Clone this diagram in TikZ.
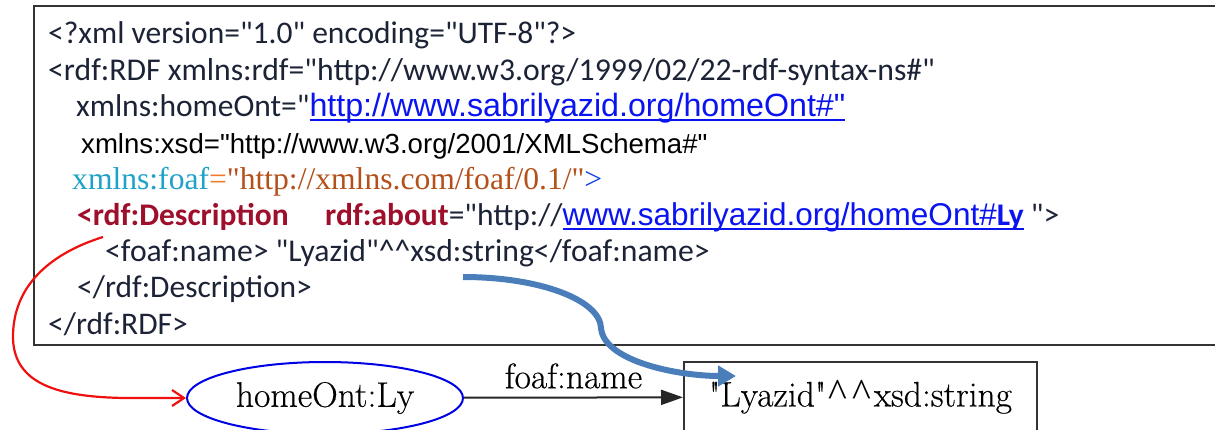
\documentclass[tikz,border=0pt]{standalone}
\usepackage{fontspec}
\newfontfamily\codefont{Carlito}
\newfontfamily\arialfont{Liberation Sans}
\newfontfamily\timesfont{Liberation Serif}
\newfontfamily\graphfont[FakeBold=0.4]{Latin Modern Roman}
\usetikzlibrary{arrows.meta,shapes.geometric}

\definecolor{codeink}{HTML}{1C2336}
\definecolor{tagred}{HTML}{9E0F2C}
\definecolor{nscyan}{HTML}{1FA2C8}
\definecolor{eqorange}{HTML}{F07A28}
\definecolor{valbrown}{HTML}{B4501A}
\definecolor{linkblue}{HTML}{0A14F0}
\definecolor{framegray}{HTML}{333333}
\definecolor{pointblue}{HTML}{4A7EBB}
\definecolor{pointred}{HTML}{F01010}

\tikzset{
  codeline/.style={anchor=base west, inner sep=0pt, text=codeink,
    font=\codefont\fontsize{31.5}{36}\selectfont},
  frame/.style={draw=framegray, line width=2.6},
  graphtext/.style={font=\graphfont\fontsize{35.5}{40}\selectfont, text=black},
  resource/.style={ellipse, draw=blue!90!black, line width=2,
    minimum width=276, minimum height=72, inner sep=0pt, graphtext},
  literal/.style={rectangle, draw=framegray, line width=2,
    minimum width=353, minimum height=70, inner sep=0pt, graphtext},
  property/.style={draw=black!85, line width=2,
    -{Triangle[length=22,width=15]}},
  redpointer/.style={draw=pointred, line width=2.2,
    -{Straight Barb[length=12,width=16,line width=2.2]}},
  bluepointer/.style={draw=pointblue, line width=6,
    -{Triangle[length=18,width=20]}},
}

% hyperlink look: blue sans text with a rule just under the baseline
\newsavebox\lnkbox
\newcommand{\lnk}[1]{{\arialfont\color{linkblue}%
  \sbox\lnkbox{#1}\rlap{\rule[-4.5pt]{\wd\lnkbox}{1.8pt}}\usebox\lnkbox}}
% caret used in the typed literal of the graph
\newcommand{\caret}{\kern2pt{\timesfont\fontsize{40}{44}\selectfont\textasciicircum}\kern3pt}

\begin{document}
\begin{tikzpicture}[x=1pt,y=-1pt]
\useasboundingbox (0,0) rectangle (1215,429);
\clip (0,0) rectangle (1215,429);
\fill[white] (0,0) rectangle (1215,429);

% RDF/XML listing frame (runs past the right edge)
\draw[frame] (34,6) rectangle (1240,345);

% listing lines
\node[codeline] (l1) at (48,43) {<?xml version="1.0" encoding="UTF-8"?>};
\node[codeline, font=\codefont\fontsize{31.7}{36}\selectfont] (l2) at (48,80)
  {<rdf:RDF xmlns:rdf="http://www.w3.org/1999/02/22-rdf-syntax-ns\#"};
\node[codeline] (l3) at (76,116)
  {xmlns:homeOnt="{\fontsize{32.2}{36}\selectfont\lnk{http://www.sabrilyazid.org/homeOnt\#"}}};
\node[codeline, text=black, font=\arialfont\fontsize{27.6}{32}\selectfont] (l4) at (81,153)
  {xmlns:xsd="http://www.w3.org/2001/XMLSchema\#"};
\node[codeline, font=\timesfont\fontsize{31.6}{36}\selectfont] (l5) at (72,189)
  {\textcolor{nscyan}{xmlns:foaf}\textcolor{eqorange}{=}\textcolor{valbrown}{"http://xmlns.com/foaf/0.1/"}\textcolor{linkblue!70!nscyan}{>}};
\node[codeline, text=tagred] (l6a) at (77,225) {\bfseries <rdf:Description};
\node[codeline] (l6b) at (325,225)
  {\textcolor{tagred}{\bfseries rdf:about}="http://\lnk{www.sabrilyazid.org/homeOnt\#{\codefont\bfseries Ly}} ">};
\node[codeline, font=\codefont\fontsize{31.7}{36}\selectfont] (l7) at (105,261)
  {<foaf:name> "Lyazid"\textasciicircum\textasciicircum xsd:string</foaf:name>};
\node[codeline] (l8) at (77,297) {</rdf:Description>};
\node[codeline] (l9) at (48,334) {</rdf:RDF>};

% RDF graph
\node[resource] (ly) at (325,398) {homeOnt:Ly};
\node[literal, anchor=west] (lit) at (683,397)
  {\textquotedbl Lyazid\textquotedbl\caret\caret xsd:string};
\draw[property] (ly) -- node[above=8pt, inner sep=0pt, graphtext] (pname) {foaf:name} (lit);

% pointers from the listing to the graph
\coordinate (redstart) at (103,237);
\draw[redpointer] (redstart) .. controls (55,252) and (14,282) .. (13,335)
  .. controls (12,385) and (60,397) .. (125,398) -- (ly.west);

\coordinate (bluestart) at (463,277);
\coordinate (blueend) at (736,376);
\draw[bluepointer] (bluestart) .. controls (540,277) and (600,300) .. (601,328)
  .. controls (604,362) and (680,376) .. (blueend);
\end{tikzpicture}
\end{document}
